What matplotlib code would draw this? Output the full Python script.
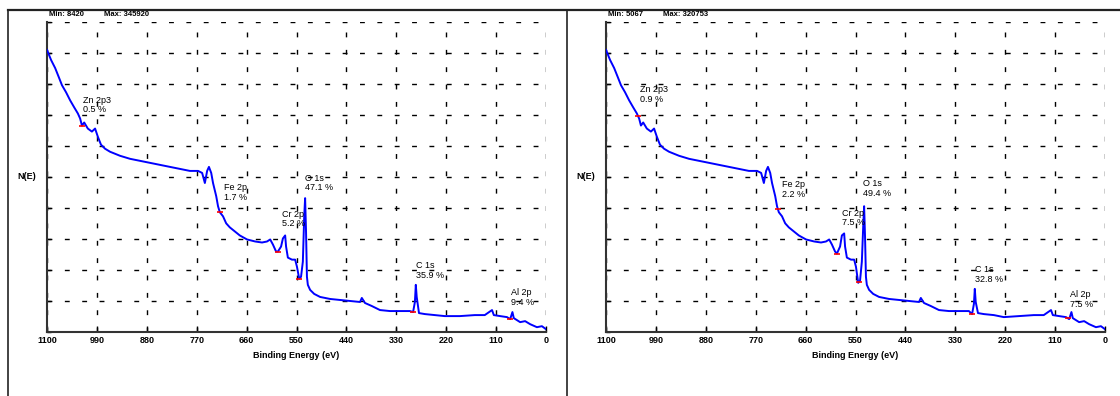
import numpy as np
import matplotlib.pyplot as plt
from matplotlib.lines import Line2D

plt.rcParams['font.family'] = ['Liberation Sans', 'DejaVu Sans']

# binding energy grid (eV) shared by both survey spectra
energy = [1100, 1091, 1082, 1074, 1067, 1058, 1049, 1040, 1032, 1027,
          1023, 1018, 1010, 1001, 994, 988, 981, 972, 961, 939,
          917, 895, 873, 851, 829, 807, 785, 767, 758, 752,
          747, 743, 738, 734, 727, 723, 719, 712, 705, 697,
          686, 675, 659, 641, 626, 615, 608, 602, 595, 591,
          584, 580, 575, 573, 569, 560, 553, 549, 544, 540,
          536, 533, 531, 529, 527, 525, 520, 511, 498, 476,
          454, 432, 410, 406, 399, 384, 366, 344, 322, 300,
          293, 289, 287, 285, 280, 267, 245, 223, 190, 157,
          135, 119, 115, 101, 86, 79, 74, 71, 57, 46,
          35, 20, 9, 0]

counts_a = [345920, 333730, 324000, 313020, 303270, 294750, 285000, 276470, 269160, 263070,
            254540, 258200, 250890, 247230, 250890, 241140, 231400, 226520, 222870, 217990,
            214340, 211900, 209460, 207020, 204580, 202150, 199710, 199710, 197270, 185090,
            199710, 204580, 197270, 185090, 169250, 157060, 149760, 144880, 136350, 131480,
            126610, 121730, 116860, 114420, 113200, 114420, 116860, 110770, 102240, 102240,
            108330, 118080, 121730, 108330, 94930, 92490, 92490, 83960, 69340, 71780,
            90050, 144880, 166810, 126610, 71780, 62030, 55940, 51070, 47410, 44970,
            43750, 42540, 41320, 46190, 40100, 36440, 31570, 30350, 30350, 30350,
            29130, 41320, 62030, 47410, 27910, 26700, 25480, 24260, 24260, 25480,
            25480, 31570, 25480, 24260, 23040, 20600, 29130, 21820, 16950, 18170,
            14510, 10860, 12080, 8420]

counts_b = [320753, 309370, 300250, 289990, 280880, 272900, 263780, 255800, 248960, 243260,
            235290, 238710, 231870, 228450, 231870, 222750, 213630, 209080, 205660, 201100,
            197680, 195400, 193120, 190840, 188560, 186280, 184000, 184000, 181720, 170330,
            184000, 188560, 181720, 170330, 155510, 144110, 137270, 132710, 124740, 120180,
            115620, 111060, 106500, 104220, 103080, 104220, 106500, 100800, 92830, 90550,
            98520, 111060, 113340, 98520, 85990, 83710, 83710, 75730, 57490, 59770,
            81430, 121320, 144110, 109920, 64330, 55210, 49520, 44960, 41540, 39260,
            38120, 36980, 35840, 40400, 34700, 31280, 26720, 25580, 25580, 25580,
            22160, 33560, 50660, 35840, 23300, 22160, 21020, 18740, 19880, 21020,
            21020, 26720, 21020, 19880, 18740, 16460, 24440, 17600, 13050, 14190,
            10770, 7350, 8490, 5067]

peaks = ["Zn 2p3", "Fe 2p", "Cr 2p", "O 1s", "C 1s", "Al 2p"]
pos_a = [1023, 719, 591, 544, 293, 79]
pos_b = [1029, 721, 591, 542, 293, 82]
pct_a = ["0.5 %", "1.7 %", "5.2 %", "47.1 %", "35.9 %", "9.4 %"]
pct_b = ["0.9 %", "2.2 %", "7.5 %", "49.4 %", "32.8 %", "7.5 %"]

xticks = [1100, 990, 880, 770, 660, 550, 440, 330, 220, 110, 0]

# label offsets in pixels (text top-left relative to the red mark)
offs_a = [(1, 30), (4, 29), (4, 42), (6, 105), (3, 51), (1, 31)]
offs_b = [(2, 31), (4, 29), (5, 45), (4, 103), (3, 49), (2, 28)]

W, H = 1120, 396
fig = plt.figure(figsize=(W / 100, H / 100), dpi=100)

# page frame lines
fig.add_artist(Line2D([8 / W, 1], [1 - 10 / H, 1 - 10 / H], color='#222222', lw=1.6))
fig.add_artist(Line2D([8 / W, 8 / W], [0, 1 - 10 / H], color='#222222', lw=1.2))
fig.add_artist(Line2D([567 / W, 567 / W], [0, 1 - 10 / H], color='#222222', lw=1.2))


def draw_panel(left_px, counts, pos, pct, offs):
    ax = fig.add_axes([left_px / W, 64 / H, 499 / W, 310 / H])
    y = np.array(counts, dtype=float)
    ymin, ymax = y.min(), y.max()
    rng = ymax - ymin
    lo, hi = ymin - 0.01 * rng, ymax + 0.1 * rng

    ax.plot(energy, counts, color='#0000ff', lw=1.4, zorder=3)

    e_inc = np.array(energy[::-1], dtype=float)
    c_inc = y[::-1]
    for name, p, t, (dx, dy) in zip(peaks, pos, pct, offs):
        yy = np.interp(p, e_inc, c_inc)
        ax.plot([p], [yy], marker='_', color='red', ms=4, mew=1.2, zorder=4)
        ax.annotate(name + "\n" + t, xy=(p, yy), xytext=(dx, dy),
                    textcoords='offset pixels', ha='left', va='top',
                    fontsize=6.5, linespacing=1.1, color='black', zorder=5)

    ax.set_xlim(1100, 0)
    ax.set_ylim(lo, hi)
    ax.set_xticks(xticks)
    ax.set_xticklabels([str(v) for v in xticks], fontsize=6.5, fontweight='bold')
    ax.set_yticks(np.linspace(lo, hi, 11))
    ax.set_yticklabels([])
    ax.tick_params(axis='x', direction='in', length=4, width=1, pad=3)
    ax.tick_params(axis='y', direction='in', length=3, width=1)
    ax.grid(True, color='black', lw=1.0, linestyle=(0, (3.5, 9)))
    for s in ['top', 'right']:
        ax.spines[s].set_visible(False)
    for s in ['left', 'bottom']:
        ax.spines[s].set_linewidth(1.5)
        ax.spines[s].set_color('#333333')

    ax.set_xlabel("Binding Energy (eV)", fontsize=6.5, fontweight='bold', labelpad=4)
    ax.set_ylabel("N(E)", fontsize=6.5, fontweight='bold', rotation=0,
                  ha='right', va='center', labelpad=4)

    fig.text((left_px + 2) / W, 1 - 15 / H, "Min: %d" % int(ymin),
             fontsize=5.5, fontweight='bold', va='center')
    fig.text((left_px + 57) / W, 1 - 15 / H, "Max: %d" % int(ymax),
             fontsize=5.5, fontweight='bold', va='center')
    return ax


draw_panel(47, counts_a, pos_a, pct_a, offs_a)
draw_panel(606, counts_b, pos_b, pct_b, offs_b)

fig.savefig("out.png", dpi=100)
